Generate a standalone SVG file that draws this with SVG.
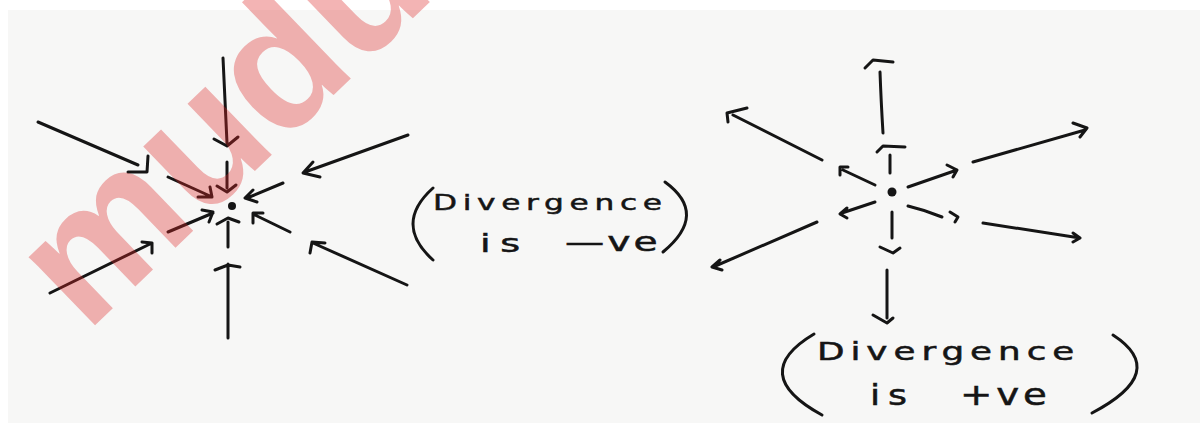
<svg xmlns="http://www.w3.org/2000/svg" width="1200" height="423" viewBox="0 0 1200 423">
<style>
.ink{fill:none;stroke:#151515;stroke-width:3;stroke-linecap:round;stroke-linejoin:round}
.dot{fill:#151515}
.hand{font-family:"DejaVu Sans","Liberation Sans",sans-serif;fill:#151515;stroke:#151515;stroke-width:0.5}
.wm{font-family:"Liberation Sans",Arial,sans-serif;font-weight:bold;font-size:180px;fill:#dc2828;fill-opacity:0.35}
</style>
<rect width="1200" height="423" fill="#ffffff"/>
<rect x="8" y="10" width="1192" height="413" fill="#f7f7f6"/>
<g id="connectors">
<g id="sink-arrows">
<path class="ink" d="M223,58 L227,143 M214,139 L227,146 L238,137"/>
<path class="ink" d="M227,162 L227,188 M217,186 L227,192 L236,185"/>
<path class="ink" d="M38,122 L138,165 M128,172 L147,172 L148,156"/>
<path class="ink" d="M168,177 L210,196 M198,197 L212,197 L210,187"/>
<path class="ink" d="M408,135 L305,172 M313,162 L303,173 L320,177"/>
<path class="ink" d="M283,183 L247,198 M253,190 L245,198 L257,202"/>
<path class="ink" d="M50,293 L152,243 M142,242 L152,243 L152,253"/>
<path class="ink" d="M168,232 L213,213 M202,210 L213,212 L209,222"/>
<path class="ink" d="M228,338 L228,264 M215,270 L228,265 L240,267"/>
<path class="ink" d="M228,247 L228,222 M217,224 L228,218 L239,222"/>
<path class="ink" d="M290,232 L255,215 M253,223 L253,213 L263,213"/>
<path class="ink" d="M407,285 L313,243 M310,253 L312,242 L325,243"/>
</g>
<g id="source-arrows">
<path class="ink" d="M883,133 Q881,100 880,72 M865,68 L873,60 L893,62"/>
<path class="ink" d="M890,173 L890,155 M877,152 L883,146 L905,147"/>
<path class="ink" d="M822,160 L733,115 M728,122 L727,113 L747,108"/>
<path class="ink" d="M875,185 L843,170 M840,175 L840,167 L848,167"/>
<path class="ink" d="M973,162 L1085,130 M1073,123 L1087,128 L1080,137"/>
<path class="ink" d="M908,187 L957,170 M947,165 L957,170 L953,177"/>
<path class="ink" d="M908,206 Q925,210 942,217 M950,212 L958,217 L955,222"/>
<path class="ink" d="M983,223 L1080,238 M1073,233 L1080,238 L1073,242"/>
<path class="ink" d="M875,202 L842,213 M847,208 L840,214 L847,218"/>
<path class="ink" d="M817,222 L713,267 M720,260 L712,267 L722,270"/>
<path class="ink" d="M892,212 L892,238 M880,247 L893,253 L900,248"/>
<path class="ink" d="M887,270 L887,318 M873,315 L887,323 L893,318"/>
</g>
</g>
<g id="sink">
<circle class="dot" cx="232" cy="206" r="4"/>
</g>
<g id="source">
<circle class="dot" cx="892" cy="192" r="4.5"/>
</g>
<g id="label-negative">
<path class="ink" d="M433,188 Q393,224 433,260"/>
<path class="ink" d="M665,182 Q709,214 663,252"/>
<text class="hand" transform="translate(433,210) scale(1.42,1)" font-size="22" letter-spacing="4">Divergence</text>
<text class="hand" transform="translate(480,252) scale(1.59,1)" font-size="24" letter-spacing="6">is</text>
<text class="hand" transform="translate(565,251) scale(1.51,1)" font-size="26" letter-spacing="2">—ve</text>
</g>
<g id="label-positive">
<path class="ink" d="M814,334 Q747,374 822,415"/>
<path class="ink" d="M1113,335 Q1170,372 1092,413"/>
<text class="hand" transform="translate(817,360) scale(1.49,1)" font-size="24" letter-spacing="4">Divergence</text>
<text class="hand" transform="translate(870,405) scale(1.3,1)" font-size="28" letter-spacing="6">is</text>
<text class="hand" transform="translate(960,405) scale(1.29,1)" font-size="30" letter-spacing="3">+ve</text>
</g>
<g id="watermark">
<text class="wm" transform="translate(86,334) rotate(-44)">mudu</text>
</g>
</svg>
